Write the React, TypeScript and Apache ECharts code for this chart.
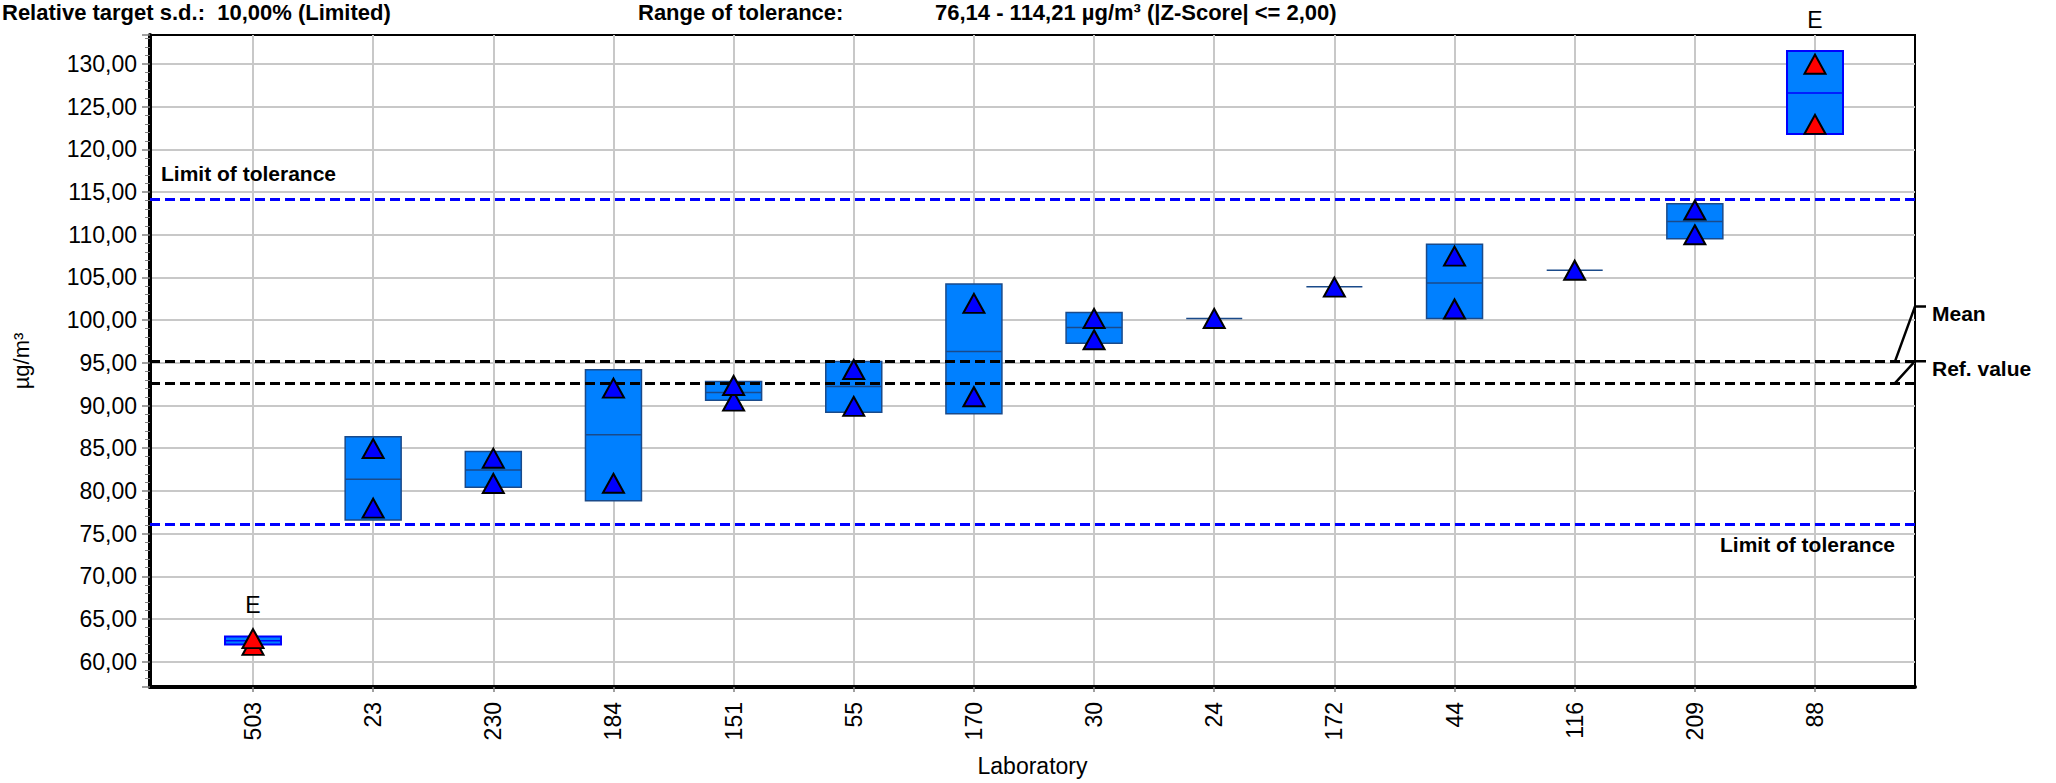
import { useEffect, useRef } from 'react';
import * as echarts from 'echarts';

const FONT = '"Liberation Sans", Arial, Helvetica, sans-serif';

const labs = ['503', '23', '230', '184', '151', '55', '170', '30', '24', '172', '44', '116', '209', '88'];
const resultHigh = [62.7, 84.96, 83.83, 92.04, 92.35, 94.22, 101.96, 100.2, 100.2, 103.87, 107.5, 105.85, 112.9, 129.98];
const resultLow: (number | null)[] = [61.9, 77.98, 80.87, 80.89, 90.52, 89.9, 91.03, 97.7, null, null, 101.31, null, 110.0, 122.93];
const boxLow = [62.0, 76.59, 80.44, 78.85, 90.62, 89.22, 89.03, 97.3, 100.2, 103.9, 100.2, 105.85, 109.53, 121.81];
const boxHigh = [62.95, 86.35, 84.6, 94.18, 92.8, 95.16, 104.24, 100.9, 100.2, 103.9, 108.9, 105.85, 113.64, 131.54];
const boxMedian = [62.45, 81.35, 82.46, 86.59, 91.52, 92.22, 96.32, 99.14, 100.2, 103.9, 104.34, 105.85, 111.55, 126.61];
const outlierFlags = ['E', '', '', '', '', '', '', '', '', '', '', '', '', 'E'];

const upperTolerance = 114.21;
const lowerTolerance = 76.14;
const meanValue = 95.17;
const refValue = 92.62;
const yMin = 57.03;
const yMax = 133.4;

const headerTexts = [
  'Relative target s.d.:  10,00% (Limited)',
  'Range of tolerance:',
  '76,14 - 114,21 µg/m³ (|Z-Score| <= 2,00)',
];
const limitLabel = 'Limit of tolerance';
const meanLabel = 'Mean';
const refLabel = 'Ref. value';
const xAxisName = 'Laboratory';
const yAxisName = 'µg/m³';

export default function App() {
  const ref = useRef<HTMLDivElement>(null);

  useEffect(() => {
    if (!ref.current) return;
    const chart = echarts.init(ref.current, null, { renderer: 'svg' });

    const triangleData: any[] = [];
    labs.forEach((_, i) => {
      const color = outlierFlags[i] === 'E' ? '#ff0000' : '#0000ff';
      if (resultLow[i] != null) triangleData.push({ value: [i, resultLow[i]], itemStyle: { color } });
      triangleData.push({ value: [i, resultHigh[i]], itemStyle: { color } });
    });

    const option: any = {
      animation: false,
      textStyle: { fontFamily: FONT },
      grid: [
        { left: 150, top: 35, width: 1765, height: 652, show: true, borderColor: '#000', borderWidth: 2, backgroundColor: 'transparent' },
        { left: 253, top: 35, width: 1562, height: 652 },
      ],
      xAxis: [
        {
          gridIndex: 0, type: 'value', min: 0, max: 1,
          axisLine: { show: true, onZero: false, lineStyle: { color: '#000', width: 4 } },
          axisTick: { show: false }, axisLabel: { show: false }, splitLine: { show: false },
          name: xAxisName, nameLocation: 'middle', nameGap: 67,
          nameTextStyle: { fontSize: 23, color: '#000', fontFamily: FONT },
        },
        {
          gridIndex: 1, type: 'category', data: labs, boundaryGap: false,
          axisLine: { show: false },
          axisTick: { show: true, interval: 0, length: 5, lineStyle: { color: '#808080', width: 1.5 } },
          axisLabel: { interval: 0, rotate: 90, margin: 15, fontSize: 23, color: '#000', fontFamily: FONT },
          splitLine: { show: true, interval: 0, lineStyle: { color: '#c8c8c8', width: 2 } },
        },
      ],
      yAxis: [
        {
          gridIndex: 0, type: 'value', min: yMin, max: yMax, splitNumber: 15,
          axisLine: { show: true, onZero: false, lineStyle: { color: '#000', width: 4 } },
          axisTick: { show: true, length: 8, lineStyle: { color: '#808080', width: 1.5 } },
          minorTick: { show: true, splitNumber: 5, length: 5, lineStyle: { color: '#808080', width: 1 } },
          axisLabel: {
            showMinLabel: false, showMaxLabel: false, margin: 13, fontSize: 23, color: '#000', fontFamily: FONT,
            formatter: (v: number) => v.toFixed(2).replace('.', ','),
          },
          splitLine: { show: true, showMinLine: false, showMaxLine: false, lineStyle: { color: '#c8c8c8', width: 2 } },
          name: yAxisName, nameLocation: 'middle', nameRotate: 90, nameGap: 118,
          nameTextStyle: { fontSize: 22, color: '#000', fontFamily: FONT },
        },
        { gridIndex: 1, type: 'value', min: yMin, max: yMax, show: false },
      ],
      series: [
        {
          type: 'line', xAxisIndex: 0, yAxisIndex: 0, data: [[0, yMin]], showSymbol: false, symbolSize: 0,
          lineStyle: { width: 0 }, silent: true, z: 3,
          markLine: {
            silent: true, symbol: ['none', 'none'], label: { show: false },
            lineStyle: { type: [10, 5], width: 3 },
            data: [
              { yAxis: upperTolerance, lineStyle: { color: '#0000ff', type: [10, 5], width: 3 } },
              { yAxis: lowerTolerance, lineStyle: { color: '#0000ff', type: [10, 5], width: 3 } },
              { yAxis: meanValue, lineStyle: { color: '#000000', type: [10, 5], width: 3 } },
              { yAxis: refValue, lineStyle: { color: '#000000', type: [10, 5], width: 3 } },
            ],
          },
        },
        {
          type: 'custom', xAxisIndex: 1, yAxisIndex: 1, z: 4,
          data: labs.map((_, i) => [i, boxLow[i], boxHigh[i], boxMedian[i]]),
          encode: { x: 0, y: [1, 2, 3] },
          renderItem: (params: any, api: any) => {
            const i = params.dataIndex;
            const xi = api.value(0);
            const lo = api.coord([xi, api.value(1)]);
            const hi = api.coord([xi, api.value(2)]);
            const md = api.coord([xi, api.value(3)]);
            const w = api.size([1, 0])[0] * 0.466;
            const isE = outlierFlags[i] === 'E';
            const edge = isE ? '#0000ff' : '#1a4a8a';
            const children: any[] = [];
            const h = lo[1] - hi[1];
            if (h > 0.5) {
              children.push({
                type: 'rect',
                shape: { x: md[0] - w / 2, y: hi[1], width: w, height: h },
                style: { fill: '#0080ff', stroke: edge, lineWidth: isE ? 2 : 1.5 },
              });
            }
            children.push({
              type: 'line',
              shape: { x1: md[0] - w / 2, y1: md[1], x2: md[0] + w / 2, y2: md[1] },
              style: { stroke: edge, lineWidth: 1.5 },
            });
            if (isE) {
              children.push({
                type: 'text', x: md[0], y: hi[1] - 31,
                style: { text: outlierFlags[i], font: `23px ${FONT}`, fill: '#000', align: 'center', verticalAlign: 'middle' },
              });
            }
            return { type: 'group', children };
          },
        },
        {
          type: 'scatter', xAxisIndex: 1, yAxisIndex: 1, z: 5,
          symbol: 'triangle', symbolSize: [21, 19],
          itemStyle: { borderColor: '#000', borderWidth: 2, opacity: 1 },
          data: triangleData,
        },
      ],
    };

    chart.setOption(option);

    const toPx = (xv: number, yv: number) => chart.convertToPixel({ gridIndex: 0 }, [xv, yv]) as number[];
    const left = toPx(0, yMin)[0];
    const right = toPx(1, yMin)[0];
    const yUpper = toPx(0, upperTolerance)[1];
    const yLower = toPx(0, lowerTolerance)[1];
    const yMean = toPx(0, meanValue)[1];
    const yRef = toPx(0, refValue)[1];
    const meanTick = yMean - 55;
    const refTick = yRef - 22;

    const boldFont = `bold 21px ${FONT}`;
    const headFont = `bold 22px ${FONT}`;
    chart.setOption({
      graphic: [
        { type: 'text', x: 2, y: 12, style: { text: headerTexts[0], font: headFont, fill: '#000', verticalAlign: 'middle' } },
        { type: 'text', x: 638, y: 12, style: { text: headerTexts[1], font: headFont, fill: '#000', verticalAlign: 'middle' } },
        { type: 'text', x: 935, y: 12, style: { text: headerTexts[2], font: headFont, fill: '#000', verticalAlign: 'middle' } },
        { type: 'text', x: left + 11, y: yUpper - 25, z: 10, style: { text: limitLabel, font: boldFont, fill: '#000', verticalAlign: 'middle' } },
        { type: 'text', x: right - 20, y: yLower + 21, z: 10, style: { text: limitLabel, font: boldFont, fill: '#000', align: 'right', verticalAlign: 'middle' } },
        {
          type: 'polyline', z: 10,
          shape: { points: [[right - 20, yMean], [right, meanTick], [right + 11, meanTick]] },
          style: { stroke: '#000', lineWidth: 2.5, fill: 'none' },
        },
        { type: 'text', x: right + 17, y: meanTick + 7, style: { text: meanLabel, font: boldFont, fill: '#000', verticalAlign: 'middle' } },
        {
          type: 'polyline', z: 10,
          shape: { points: [[right - 20, yRef], [right, refTick], [right + 11, refTick]] },
          style: { stroke: '#000', lineWidth: 2.5, fill: 'none' },
        },
        { type: 'text', x: right + 17, y: refTick + 7, style: { text: refLabel, font: boldFont, fill: '#000', verticalAlign: 'middle' } },
      ],
    });

    return () => chart.dispose();
  }, []);

  return <div ref={ref} style={{ position: 'fixed', left: 0, top: 0, width: 2056, height: 783, background: '#fff' }} />;
}
